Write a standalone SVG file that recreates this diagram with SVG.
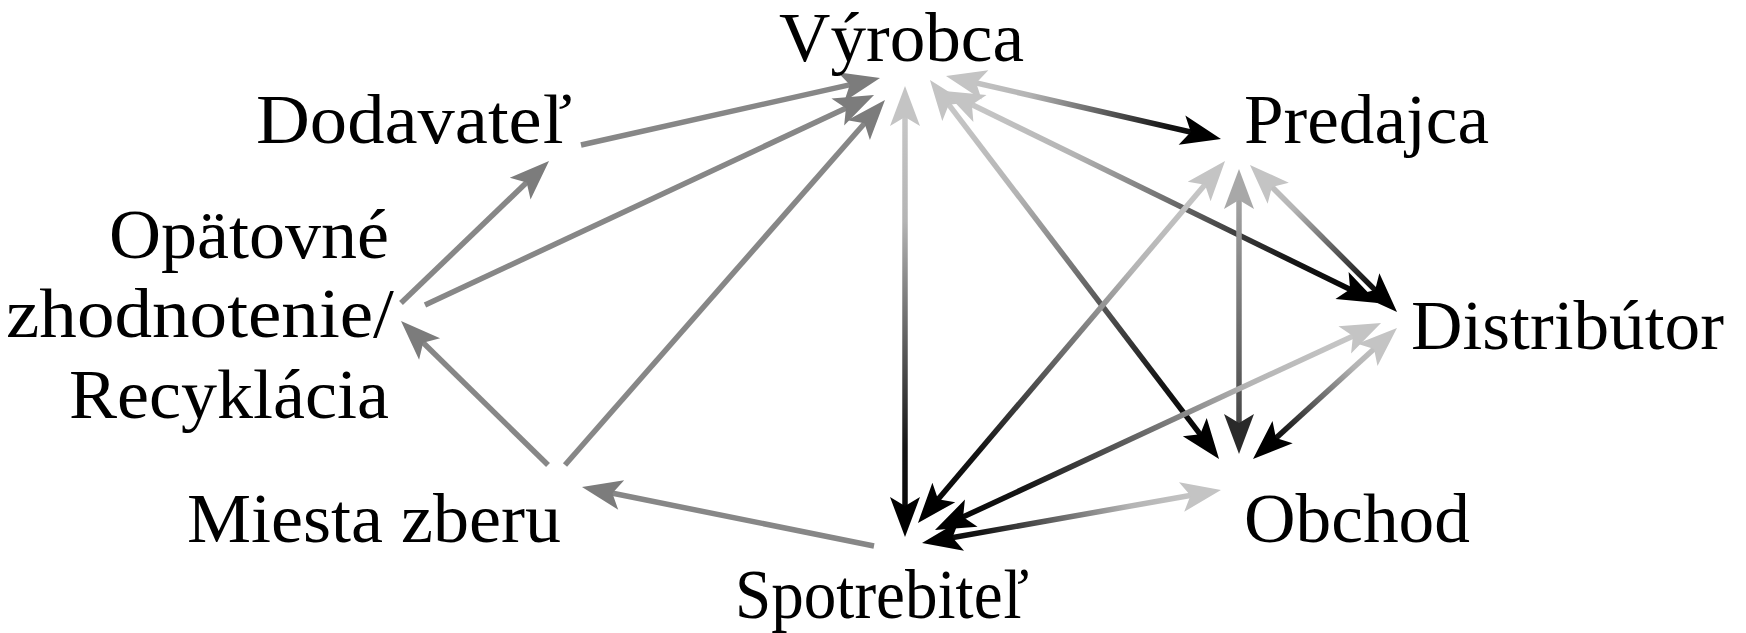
<svg xmlns="http://www.w3.org/2000/svg" width="1746" height="633" viewBox="0 0 1746 633">
<style>
  text { font-family: "Liberation Serif", "Times New Roman", serif; font-size: 70px; fill: #000; }
  .gray { stroke: #878787; stroke-width: 5.5; fill: none; marker-end: url(#ah-gray); }
  .bi { stroke-width: 5.5; fill: none; marker-start: url(#ah-light); marker-end: url(#ah-dark); }
</style>
<defs>
  <linearGradient id="base">
    <stop offset="0" stop-color="#cccccc"/>
    <stop offset="0.3" stop-color="#b4b4b4"/>
    <stop offset="0.8" stop-color="#151515"/>
    <stop offset="1" stop-color="#000000"/>
  </linearGradient>
  <linearGradient id="base2">
    <stop offset="0" stop-color="#b0b0b0"/>
    <stop offset="1" stop-color="#3a3a3a"/>
  </linearGradient>
  <linearGradient id="g4" href="#base" gradientUnits="userSpaceOnUse" x1="905" y1="86" x2="905" y2="537"/>
  <linearGradient id="g5" href="#base" gradientUnits="userSpaceOnUse" x1="930" y1="80" x2="1219" y2="459"/>
  <linearGradient id="g6" href="#base" gradientUnits="userSpaceOnUse" x1="946" y1="76" x2="1221" y2="139"/>
  <linearGradient id="g7" href="#base" gradientUnits="userSpaceOnUse" x1="944" y1="91" x2="1378" y2="303"/>
  <linearGradient id="g8" href="#base" gradientUnits="userSpaceOnUse" x1="1225" y1="161" x2="918" y2="523"/>
  <linearGradient id="g9" href="#base2" gradientUnits="userSpaceOnUse" x1="1239" y1="169" x2="1239" y2="454"/>
  <linearGradient id="g10" href="#base" gradientUnits="userSpaceOnUse" x1="1250" y1="165" x2="1397" y2="312"/>
  <linearGradient id="g11" href="#base" gradientUnits="userSpaceOnUse" x1="1381" y1="323" x2="935" y2="530"/>
  <linearGradient id="g12" href="#base" gradientUnits="userSpaceOnUse" x1="1397" y1="328" x2="1253" y2="459"/>
  <linearGradient id="g13" href="#base" gradientUnits="userSpaceOnUse" x1="1221" y1="490" x2="922" y2="543"/>
  <marker id="ah-gray" markerUnits="userSpaceOnUse" viewBox="-42 -17 44 34" markerWidth="44" markerHeight="34" refX="-20" refY="0" orient="auto-start-reverse">
    <path d="M0,0 L-40,-15 L-31,0 L-40,15 Z" fill="#7c7c7c"/>
  </marker>
  <marker id="ah-light" markerUnits="userSpaceOnUse" viewBox="-42 -17 44 34" markerWidth="44" markerHeight="34" refX="-20" refY="0" orient="auto-start-reverse">
    <path d="M0,0 L-40,-15 L-31,0 L-40,15 Z" fill="#c4c4c4"/>
  </marker>
  <marker id="ah-dark" markerUnits="userSpaceOnUse" viewBox="-42 -17 44 34" markerWidth="44" markerHeight="34" refX="-20" refY="0" orient="auto-start-reverse">
    <path d="M0,0 L-40,-15 L-31,0 L-40,15 Z" fill="#000"/>
  </marker>
  <marker id="ah-mid" markerUnits="userSpaceOnUse" viewBox="-42 -17 44 34" markerWidth="44" markerHeight="34" refX="-20" refY="0" orient="auto-start-reverse">
    <path d="M0,0 L-40,-15 L-31,0 L-40,15 Z" fill="#a8a8a8"/>
  </marker>
  <marker id="ah-dark2" markerUnits="userSpaceOnUse" viewBox="-42 -17 44 34" markerWidth="44" markerHeight="34" refX="-20" refY="0" orient="auto-start-reverse">
    <path d="M0,0 L-40,-15 L-31,0 L-40,15 Z" fill="#2a2a2a"/>
  </marker>
</defs>

<g id="connectors">
  <path class="gray" d="M581,145 L860.5,82.4"/>
  <path class="gray" d="M425,305 L855.9,103.5"/>
  <path class="gray" d="M565,465 L871.8,115"/>
  <path class="gray" d="M401,303 L534.6,174.8"/>
  <path class="gray" d="M548,465 L415.3,335"/>
  <path class="gray" d="M874,546 L601.6,491"/>
  <path class="bi" stroke="url(#g4)" d="M905,106 L905,517"/>
  <path class="bi" stroke="url(#g5)" d="M942.1,95.9 L1206.9,443.1"/>
  <path class="bi" stroke="url(#g6)" d="M965.5,80.5 L1201.5,134.5"/>
  <path class="bi" stroke="url(#g7)" d="M962,99.8 L1360,294.2"/>
  <path class="bi" stroke="url(#g8)" d="M1212.1,176.3 L930.9,507.7"/>
  <path class="bi" stroke="url(#g9)" style="marker-start:url(#ah-mid);marker-end:url(#ah-dark2)" d="M1239,189 L1239,434"/>
  <path class="bi" stroke="url(#g10)" d="M1264.1,179.1 L1382.9,297.9"/>
  <path class="bi" stroke="url(#g11)" d="M1362.9,331.4 L953.1,521.6"/>
  <path class="bi" stroke="url(#g12)" d="M1382.2,341.5 L1267.8,445.5"/>
  <path class="bi" stroke="url(#g13)" d="M1201.3,493.5 L941.7,539.5"/>
</g>

<g id="n-vyrobca"><text x="779" y="61" textLength="245" lengthAdjust="spacingAndGlyphs">Výrobca</text></g>
<g id="n-dodavatel"><text x="256" y="143" textLength="316" lengthAdjust="spacingAndGlyphs">Dodavateľ</text></g>
<g id="n-predajca"><text x="1244" y="143" textLength="245" lengthAdjust="spacingAndGlyphs">Predajca</text></g>
<g id="n-opatovne">
  <text x="109" y="258" textLength="280" lengthAdjust="spacingAndGlyphs">Opätovné</text>
  <text x="6" y="337" textLength="388" lengthAdjust="spacingAndGlyphs">zhodnotenie/</text>
  <text x="69" y="418" textLength="320" lengthAdjust="spacingAndGlyphs">Recyklácia</text>
</g>
<g id="n-distributor"><text x="1411" y="349" textLength="313" lengthAdjust="spacingAndGlyphs">Distribútor</text></g>
<g id="n-miesta"><text x="187" y="542" textLength="374" lengthAdjust="spacingAndGlyphs">Miesta zberu</text></g>
<g id="n-obchod"><text x="1244" y="542" textLength="226" lengthAdjust="spacingAndGlyphs">Obchod</text></g>
<g id="n-spotrebitel"><text x="735" y="618" textLength="294" lengthAdjust="spacingAndGlyphs">Spotrebiteľ</text></g>
</svg>
